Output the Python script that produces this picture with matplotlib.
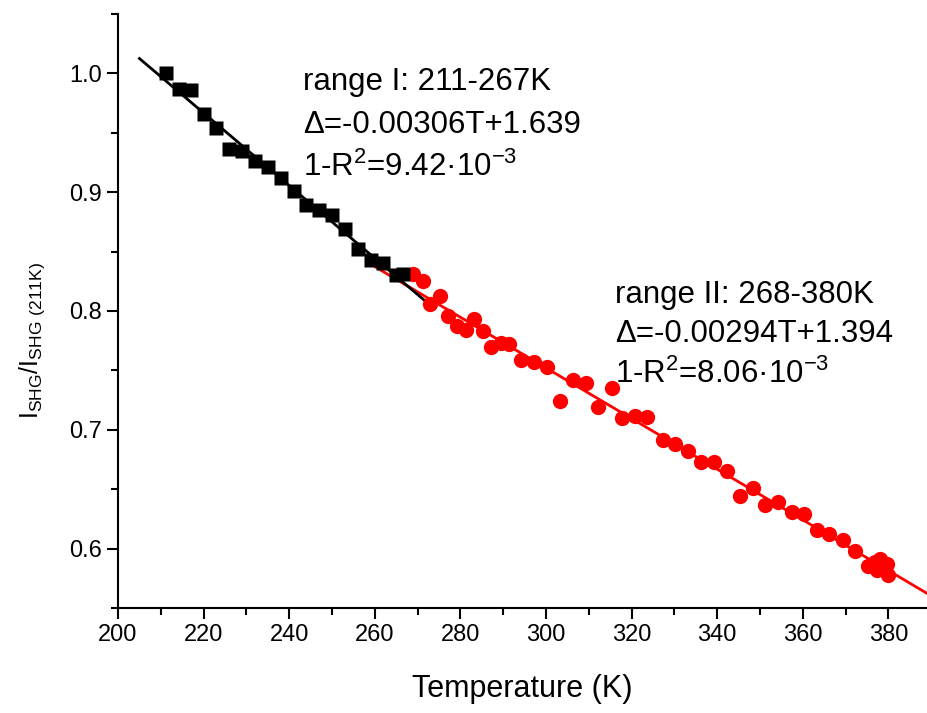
import numpy as np
import matplotlib
matplotlib.use('Agg')
import matplotlib.pyplot as plt

# range I (black squares)
T1 = [211.2, 214.3, 217.0, 220.0, 223.0, 226.0, 229.0, 232.0, 235.0, 238.0,
      241.0, 244.0, 247.0, 250.0, 253.0, 256.0, 259.0, 262.0, 265.0, 266.6]
v1 = [1.000, 0.987, 0.986, 0.966, 0.954, 0.936, 0.935, 0.926, 0.921, 0.912,
      0.901, 0.889, 0.885, 0.881, 0.869, 0.852, 0.843, 0.840, 0.830, 0.831]

# range II (red circles)
T2 = [268.9, 271.3, 272.9, 275.2, 277.1, 279.2, 281.3, 283.2, 285.3, 287.1,
      289.5, 291.4, 294.2, 297.2, 300.2, 303.3, 306.3, 309.3, 312.1, 315.4,
      317.8, 320.8, 323.6, 327.3, 330.1, 333.2, 336.2, 339.3, 342.3, 345.3,
      348.4, 351.2, 354.2, 357.5, 360.3, 363.3, 366.1, 369.4, 372.2, 375.2,
      376.9, 377.3, 378.0, 379.7, 380.0]
v2 = [0.831, 0.825, 0.806, 0.813, 0.796, 0.787, 0.784, 0.793, 0.783, 0.770,
      0.773, 0.772, 0.759, 0.757, 0.753, 0.724, 0.742, 0.739, 0.719, 0.735,
      0.710, 0.712, 0.711, 0.691, 0.688, 0.682, 0.673, 0.673, 0.665, 0.644,
      0.651, 0.637, 0.639, 0.631, 0.629, 0.616, 0.612, 0.607, 0.598, 0.585,
      0.589, 0.582, 0.591, 0.587, 0.578]

# extent of the drawn fit lines
fit1_range = [205, 273]
fit2_range = [258, 395]

label1 = ['range I: 211-267K', u'\u0394=-0.00306T+1.639',
          u'1-R$\\mathregular{^2}$=9.42\u00b710$\\mathregular{^{-3}}$']
label2 = ['range II: 268-380K', u'\u0394=-0.00294T+1.394',
          u'1-R$\\mathregular{^2}$=8.06\u00b710$\\mathregular{^{-3}}$']

plt.rcParams['font.family'] = ['Liberation Sans', 'DejaVu Sans']
plt.rcParams['mathtext.fontset'] = 'custom'
plt.rcParams['mathtext.rm'] = 'Liberation Sans'

fig = plt.figure(figsize=(9.27, 7.13), dpi=100)
ax = fig.add_axes([0.1273, 0.1473, 0.8727, 0.8331])

p1 = np.polyfit(T1, v1, 1)
p2 = np.polyfit(T2, v2, 1)
x1 = np.array(fit1_range)
x2 = np.array(fit2_range)
ax.plot(x2, np.polyval(p2, x2), color='#ff0000', lw=2, zorder=2)
ax.plot(x1, np.polyval(p1, x1), color='black', lw=2, zorder=2)

ax.plot(T2, v2, 'o', color='#ff0000', ms=11, mec='none', zorder=3)
ax.plot(T1, v1, 's', color='black', ms=9.5, mec='none', zorder=4)

ax.set_xlim(200, 389)
ax.set_ylim(0.553, 1.049)
ax.set_xticks(np.arange(200, 381, 20))
ax.set_xticks(np.arange(210, 389, 20), minor=True)
ax.set_yticks([0.6, 0.7, 0.8, 0.9, 1.0])
ax.set_yticks([0.55, 0.65, 0.75, 0.85, 0.95, 1.05], minor=True)
ax.set_yticklabels(['0.6', '0.7', '0.8', '0.9', '1.0'])

for s in ['top', 'right']:
    ax.spines[s].set_visible(False)
for s in ['left', 'bottom']:
    ax.spines[s].set_linewidth(1.5)
ax.tick_params(which='major', direction='out', length=8, width=1.5, labelsize=17)
ax.tick_params(which='minor', direction='out', length=5, width=1.5)

ax.set_xlabel('Temperature (K)', fontsize=22, labelpad=20)
ax.set_ylabel(r'$\mathregular{I_{SHG}/I_{SHG\ (211K)}}$', fontsize=18)
ax.yaxis.set_label_coords(-0.088, 0.45)

ys1 = [0.9925, 0.9566, 0.9206]
ys2 = [0.8137, 0.7803, 0.7469]
for t, y in zip(label1, ys1):
    ax.text(243.2, y, t, fontsize=22.5, va='center', ha='left')
for t, y in zip(label2, ys2):
    ax.text(316.1, y, t, fontsize=22.5, va='center', ha='left')

fig.savefig('out.png', dpi=100)
